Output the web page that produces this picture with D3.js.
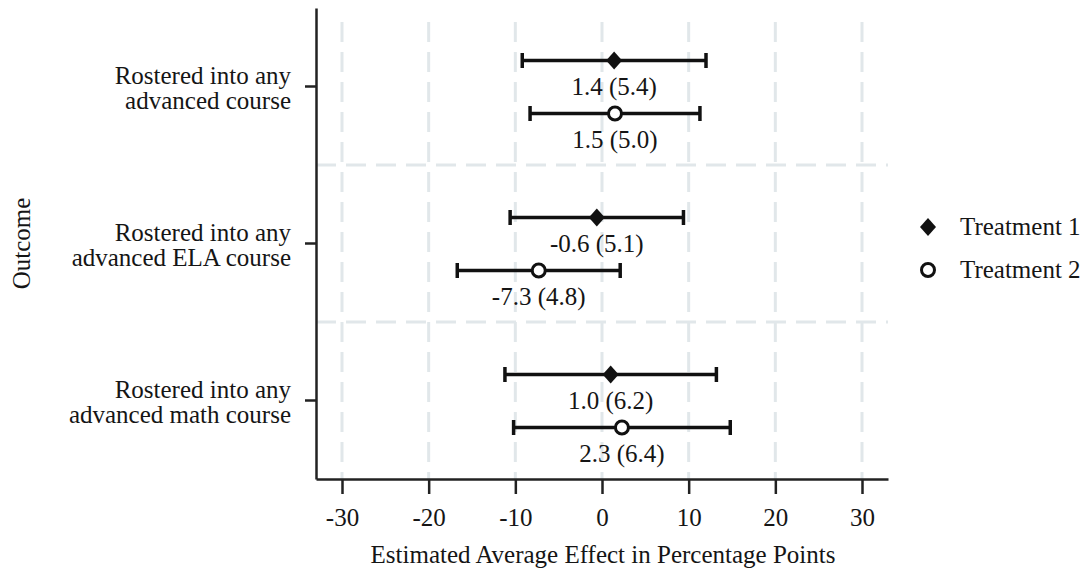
<!DOCTYPE html>
<html>
<head>
<meta charset="utf-8">
<script src="https://cdn.jsdelivr.net/npm/d3@7"></script>
<style>
  body { margin: 0; background: #fff; }
  svg text { font-family: "Liberation Serif", "Times New Roman", serif; fill: #151515; }
</style>
</head>
<body>
<div class="container"></div>
<script>
// chart values
const outcomes = [
    ["Rostered into any", "advanced course"],
    ["Rostered into any", "advanced ELA course"],
    ["Rostered into any", "advanced math course"]
];
const seriesNames = ["Treatment 1", "Treatment 2"];
const t1Estimate = [1.4, -0.6, 1.0];
const t1SE = [5.4, 5.1, 6.2];
const t1Low = [-9.2, -10.6, -11.2];
const t1High = [12.0, 9.4, 13.2];
const t2Estimate = [1.5, -7.3, 2.3];
const t2SE = [5.0, 4.8, 6.4];
const t2Low = [-8.3, -16.7, -10.2];
const t2High = [11.3, 2.1, 14.8];
const xTicks = [-30, -20, -10, 0, 10, 20, 30];

const W = 1085, H = 577;
const plot = { left: 316, right: 888, top: 8, bottom: 479 };
const fontSize = 25;

const svg = d3.select("div.container").append("svg")
    .attr("width", W)
    .attr("height", H);

const x = d3.scaleLinear().domain([-33, 33]).range([plot.left, plot.right]);
const y = d3.scaleBand().domain(d3.range(outcomes.length)).range([plot.top, plot.bottom]);

const gridColor = "#e1e7ea";

//vertical dashed grid
svg.append("g").selectAll("line")
    .data(xTicks)
    .enter()
    .append("line")
    .attr("x1", d => x(d)).attr("x2", d => x(d))
    .attr("y1", 22).attr("y2", plot.bottom)
    .attr("stroke", gridColor)
    .attr("stroke-width", 3)
    .attr("stroke-dasharray", "20 10");

//horizontal dashed grid between outcomes
svg.append("g").selectAll("line")
    .data(d3.range(1, outcomes.length))
    .enter()
    .append("line")
    .attr("x1", plot.left).attr("x2", plot.right)
    .attr("y1", d => y(d)).attr("y2", d => y(d))
    .attr("stroke", gridColor)
    .attr("stroke-width", 3)
    .attr("stroke-dasharray", "20 10");

//x axis
const xAxis = svg.append("g")
    .attr("transform", `translate(0,${plot.bottom})`)
    .call(d3.axisBottom(x).tickValues(xTicks).tickSize(15).tickPadding(14).tickSizeOuter(0)
        .tickFormat(d => String(d)));
xAxis.select(".domain").attr("stroke", "#222").attr("stroke-width", 2.5);
xAxis.selectAll(".tick line").attr("stroke", "#222").attr("stroke-width", 2.5);
xAxis.selectAll("text").attr("font-size", fontSize).attr("fill", "#151515")
    .attr("font-family", "Liberation Serif");

//y axis
const yAxis = svg.append("g")
    .attr("transform", `translate(${plot.left},0)`)
    .call(d3.axisLeft(y).tickSize(11).tickSizeOuter(0).tickFormat(""));
yAxis.select(".domain").attr("stroke", "#222").attr("stroke-width", 2.5);
yAxis.selectAll(".tick line").attr("stroke", "#222").attr("stroke-width", 2.5);

//category labels on two lines
const catLabel = svg.append("g").selectAll("text")
    .data(outcomes)
    .enter()
    .append("text")
    .attr("text-anchor", "end")
    .attr("font-size", fontSize)
    .attr("transform", (d, i) => `translate(291,${y(i) + y.bandwidth() / 2})`);
catLabel.selectAll("tspan")
    .data(d => d)
    .enter()
    .append("tspan")
    .attr("x", 0)
    .attr("y", (d, i) => i === 0 ? -3 : 22)
    .text(d => d);

//axis titles
svg.append("text")
    .attr("text-anchor", "middle")
    .attr("font-size", fontSize)
    .attr("x", 603)
    .attr("y", 563)
    .text("Estimated Average Effect in Percentage Points");

svg.append("text")
    .attr("text-anchor", "middle")
    .attr("font-size", fontSize)
    .attr("transform", `translate(30,${(plot.top + plot.bottom) / 2}) rotate(-90)`)
    .text("Outcome");

//build rows for each series
const series = [
    { name: seriesNames[0], est: t1Estimate, se: t1SE, lo: t1Low, hi: t1High, offset: -26, shape: "diamond" },
    { name: seriesNames[1], est: t2Estimate, se: t2SE, lo: t2Low, hi: t2High, offset: 27, shape: "circle" }
];
const rows = [];
series.forEach(s => {
    s.est.forEach((v, i) => rows.push({ i, est: v, se: s.se[i], lo: s.lo[i], hi: s.hi[i], offset: s.offset, shape: s.shape }));
});
const cy = d => y(d.i) + y.bandwidth() / 2 + d.offset;

const marks = svg.append("g");
//error bars
marks.selectAll("line.ci")
    .data(rows)
    .enter()
    .append("line")
    .attr("class", "ci")
    .attr("x1", d => x(d.lo)).attr("x2", d => x(d.hi))
    .attr("y1", cy).attr("y2", cy)
    .attr("stroke", "#111").attr("stroke-width", 3.5);
//caps
["lo", "hi"].forEach(k => {
    marks.selectAll("line.cap-" + k)
        .data(rows)
        .enter()
        .append("line")
        .attr("class", "cap-" + k)
        .attr("x1", d => x(d[k])).attr("x2", d => x(d[k]))
        .attr("y1", d => cy(d) - 7.5).attr("y2", d => cy(d) + 7.5)
        .attr("stroke", "#111").attr("stroke-width", 3.5);
});

function drawMarker(sel, shape) {
    if (shape === "diamond") {
        sel.append("path").attr("d", "M0,-9L8,0L0,9L-8,0Z").attr("fill", "#111");
    } else {
        sel.append("circle").attr("r", 6.5).attr("fill", "#fff")
            .attr("stroke", "#111").attr("stroke-width", 3);
    }
}
marks.selectAll("g.pt")
    .data(rows)
    .enter()
    .append("g")
    .attr("class", "pt")
    .attr("transform", d => `translate(${x(d.est)},${cy(d)})`)
    .each(function (d) { drawMarker(d3.select(this), d.shape); });

//value labels
marks.selectAll("text.val")
    .data(rows)
    .enter()
    .append("text")
    .attr("class", "val")
    .attr("text-anchor", "middle")
    .attr("font-size", fontSize)
    .attr("x", d => x(d.est))
    .attr("y", d => cy(d) + 34)
    .text(d => `${d.est.toFixed(1)} (${d.se.toFixed(1)})`);

//legend
const legend = svg.append("g").attr("transform", "translate(928,227)");
const legendItem = legend.selectAll("g")
    .data(series)
    .enter()
    .append("g")
    .attr("transform", (d, i) => `translate(0,${i * 43})`);
legendItem.each(function (d) { drawMarker(d3.select(this), d.shape); });
legendItem.append("text")
    .attr("x", 32)
    .attr("y", 8)
    .attr("font-size", fontSize)
    .text(d => d.name);
</script>
</body>
</html>
